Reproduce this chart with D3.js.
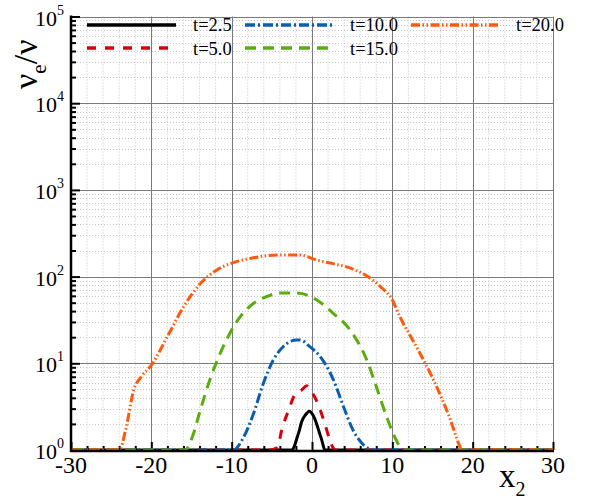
<!DOCTYPE html>
<html>
<head>
<meta charset="utf-8">
<script src="https://cdn.jsdelivr.net/npm/d3@7"></script>
<style>
  html, body { margin: 0; padding: 0; background: #fff; }
  svg { display: block; font-family: "Liberation Serif", "Times New Roman", serif; }
</style>
</head>
<body>
<svg id="chart" width="593" height="504"></svg>
<script>
// Eddy viscosity ratio profiles across x2 at several times
const labels = ["t=2.5", "t=5.0", "t=10.0", "t=15.0", "t=20.0"];

const x_t2_5 = [-30, -2.5, -2.2, -1.9, -1.6, -1.3, -0.8, -0.33, 0.1, 0.58, 0.9, 1.2, 1.4, 1.6, 30];
const v_t2_5 = [1, 1, 1.1, 1.35, 1.65, 2.1, 2.55, 2.8, 2.55, 2.0, 1.6, 1.32, 1.12, 1, 1];

const x_t5 = [-30, -5.5, -4.3, -3.77, -2.9, -2.1, -1.3, -0.66, -0.04, 0.8, 1.6, 2.2, 2.65, 3.0, 30];
const v_t5 = [1, 1, 1.07, 1.7, 2.9, 4.4, 4.9, 5.5, 4.7, 3.3, 2.0, 1.32, 1.05, 1, 1];

const x_t10 = [-30, -9.8, -8.5, -7.3, -6.05, -4.8, -3.6, -1.9, -1.5, -0.25, 1.0, 2.65, 3.9, 5.1, 6.4, 7.2, 7.6, 30];
const v_t10 = [1, 1, 1.41, 2.6, 5.9, 11, 15.5, 18.6, 18.6, 15.5, 12, 6.5, 3.2, 1.7, 1.15, 1.02, 1, 1];

const x_t15 = [-30, -15.8, -14.9, -13.9, -12.7, -11.4, -10.2, -8.9, -7.3, -5.6, -4.0, -1.9, 0.6, 2.6, 4.7, 6.8, 8.0, 9.3, 10.3, 11.1, 11.5, 30];
const v_t15 = [1, 1, 1.41, 2.9, 6.5, 13.2, 22.4, 34.7, 49, 59, 64.6, 64.6, 53.7, 38, 24.5, 11, 5.4, 2.4, 1.41, 1.05, 1, 1];

const x_t20 = [-30, -24.0, -23.2, -22.2, -21.2, -20.0, -18.0, -16.0, -13.9, -11.8, -9.8, -7.7, -5.6, -3.6, -1.5, 0.6, 2.6, 4.7, 6.8, 8.9, 9.9, 10.9, 13.0, 15.1, 17.1, 18.4, 18.6, 30];
const v_t20 = [1, 1, 1.7, 4.9, 7.1, 9.5, 20.4, 44.7, 83, 120, 145, 162, 174, 178, 178, 155, 141, 126, 102, 71, 56, 35, 15.5, 6.5, 2.4, 1.1, 1, 1];

const xTicks = [-30, -20, -10, 0, 10, 20, 30];
const xTickLabels = ["-30", "-20", "-10", "0", "10", "20", "30"];
const yExponents = [0, 1, 2, 3, 4, 5];

const seriesX = [x_t2_5, x_t5, x_t10, x_t15, x_t20];
const seriesV = [v_t2_5, v_t5, v_t10, v_t15, v_t20];
const colors = ["#000000", "#d9000d", "#0a5db0", "#5aad0c", "#ff5a0c"];
const dashes = ["none", "9,9", "10,3,2,3", "11,7", "9,2.5,1.5,2.5,1.5,2.5"];

const svg = d3.select("#chart");
const L = 71, R = 553, T = 16.5, B = 450;

const x = d3.scaleLinear().domain([-30, 30]).range([L, R]);
const y = d3.scaleLog().domain([1, 1e5]).range([B, T]);

// minor ticks: every 2 units in x, 2..9 per decade in y
const xMinor = d3.range(-30, 30.01, 2).filter(v => v % 10 !== 0);
const yMinor = [];
for (let e = 0; e < 5; e++) for (let k = 2; k <= 9; k++) yMinor.push(k * Math.pow(10, e));
const yMajor = yExponents.map(e => Math.pow(10, e));

// grid
const grid = svg.append("g");
grid.selectAll(".gxm").data(xMinor).join("line")
  .attr("x1", d => x(d)).attr("x2", d => x(d)).attr("y1", T).attr("y2", B)
  .attr("stroke", "#c4c4c4").attr("stroke-width", 1).attr("stroke-dasharray", "1,2");
grid.selectAll(".gym").data(yMinor).join("line")
  .attr("x1", L).attr("x2", R).attr("y1", d => Math.round(y(d)) + 0.5).attr("y2", d => Math.round(y(d)) + 0.5)
  .attr("stroke", "#c4c4c4").attr("stroke-width", 1).attr("stroke-dasharray", "1,2");
grid.selectAll(".gxM").data(xTicks).join("line")
  .attr("x1", d => Math.round(x(d)) + 0.5).attr("x2", d => Math.round(x(d)) + 0.5).attr("y1", T).attr("y2", B)
  .attr("stroke", "#7a7a7a").attr("stroke-width", 1);
grid.selectAll(".gyM").data(yMajor).join("line")
  .attr("x1", L).attr("x2", R).attr("y1", d => Math.round(y(d)) + 0.5).attr("y2", d => Math.round(y(d)) + 0.5)
  .attr("stroke", "#7a7a7a").attr("stroke-width", 1);

// axes with inward ticks
const xAxisMajor = d3.axisBottom(x).tickValues(xTicks).tickSize(-8).tickFormat("");
const xAxisMinor = d3.axisBottom(x).tickValues(xMinor).tickSize(-4).tickFormat("");
const yAxisMajor = d3.axisLeft(y).tickValues(yMajor).tickSize(-9).tickFormat("");
const yAxisMinor = d3.axisLeft(y).tickValues(yMinor).tickSize(-5).tickFormat("");

function styleAxis(g) {
  g.select(".domain").remove();
  g.selectAll("line").attr("stroke", "#000").attr("stroke-width", 2);
}
svg.append("g").attr("transform", `translate(0,${B})`).call(xAxisMajor).call(styleAxis);
svg.append("g").attr("transform", `translate(0,${B})`).call(xAxisMinor).call(styleAxis);
svg.append("g").attr("transform", `translate(${L},0)`).call(yAxisMajor).call(styleAxis);
svg.append("g").attr("transform", `translate(${L},0)`).call(yAxisMinor).call(styleAxis);

// curves
const line = d3.line()
  .x(d => x(d[0]))
  .y(d => y(d[1]))
  .curve(d3.curveMonotoneX);

seriesX.forEach((xs, i) => {
  const pts = xs.map((xv, j) => [xv, seriesV[i][j]]);
  svg.append("path")
    .datum(pts)
    .attr("d", line)
    .attr("fill", "none")
    .attr("stroke", colors[i])
    .attr("stroke-width", 3)
    .attr("stroke-dasharray", dashes[i]);
});

// axis lines
svg.append("line").attr("x1", L).attr("x2", L).attr("y1", T - 1).attr("y2", B + 2)
  .attr("stroke", "#000").attr("stroke-width", 2.5);
svg.append("line").attr("x1", L - 1).attr("x2", R + 1).attr("y1", B + 1).attr("y2", B + 1)
  .attr("stroke", "#000").attr("stroke-width", 2.5);

// x tick labels
svg.selectAll(".xl").data(xTicks).join("text")
  .attr("x", d => x(d)).attr("y", 473)
  .attr("text-anchor", "middle").attr("font-size", 24).attr("fill", "#000")
  .text((d, i) => xTickLabels[i]);

// y tick labels: 10 with exponent
yExponents.forEach(e => {
  const yy = y(Math.pow(10, e));
  const t = svg.append("text").attr("y", yy + 9).attr("x", 35).attr("fill", "#000");
  t.append("tspan").attr("font-size", 22).text("10");
  t.append("tspan").attr("font-size", 14).attr("dy", -11).text(String(e));
});

// axis titles
const xt = svg.append("text").attr("x", 499).attr("y", 487).attr("fill", "#000");
xt.append("tspan").attr("font-size", 33).text("x");
xt.append("tspan").attr("font-size", 20).attr("dy", 9).text("2");

const yt = svg.append("text")
  .attr("transform", "translate(37,89) rotate(-90)")
  .attr("fill", "#000");
yt.append("tspan").attr("font-size", 34).text("ν");
yt.append("tspan").attr("font-size", 21).attr("dy", 9).text("e");
yt.append("tspan").attr("font-size", 34).attr("dy", -9).text("/ν");

// legend
const legendPos = [
  { x1: 87, x2: 176, y: 25, tx: 193, ty: 31 },
  { x1: 87, x2: 168, y: 48, tx: 193, ty: 55 },
  { x1: 245, x2: 332, y: 25, tx: 350, ty: 31 },
  { x1: 245, x2: 330, y: 48, tx: 350, ty: 55 },
  { x1: 411, x2: 498, y: 25, tx: 516, ty: 31 }
];
labels.forEach((lab, i) => {
  const p = legendPos[i];
  svg.append("line")
    .attr("x1", p.x1).attr("x2", p.x2).attr("y1", p.y).attr("y2", p.y)
    .attr("stroke", colors[i]).attr("stroke-width", 3.5)
    .attr("stroke-dasharray", dashes[i]);
  svg.append("text")
    .attr("x", p.tx).attr("y", p.ty)
    .attr("font-size", 18.5).attr("fill", "#000")
    .text(lab);
});
</script>
</body>
</html>
